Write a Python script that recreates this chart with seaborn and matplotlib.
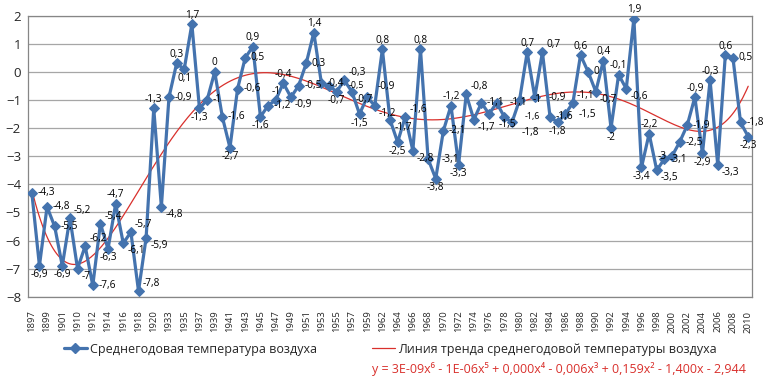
import numpy as np
import pandas as pd
import matplotlib
matplotlib.use("Agg")
import matplotlib.pyplot as plt
from matplotlib.lines import Line2D
import seaborn as sns

# categories (years present in the series)
years = ([1897, 1898, 1899, 1900, 1901, 1909]
         + list(range(1910, 1921)) + [1932]
         + list(range(1933, 1960)) + [1961]
         + list(range(1962, 2011)))

# mean annual air temperature
temps = [-4.3, -6.9, -4.8, -5.5, -6.9, -5.2, -7, -6.2, -7.6, -5.4, -6.3, -4.7,
         -6.1, -5.7, -7.8, -5.9, -1.3, -4.8,
         -0.9, 0.3, 0.1, 1.7, -1.3, -1, 0, -1.6, -2.7, -0.6, 0.5, 0.9,
         -1.6, -1.2, -1, -0.4, -0.9, -0.5, 0.3, 1.4, -0.4, -0.5, -0.7, -0.3,
         -0.7, -1.5, -0.9, -1.2,
         0.8, -1.7, -2.5, -1.6, -2.8, 0.8, -3.1, -3.8, -2.1, -1.2, -3.3, -0.8,
         -1.7, -1.1, -1.5, -1.1, -1.6, -1.8, -1, 0.7, -0.9, 0.7, -1.6, -1.8,
         -1.5, -1.1,
         0.6, 0, -0.7, 0.4, -2, -0.1, -0.6, 1.9,
         -3.4, -2.2, -3.5, -3.1, -3, -2.5, -1.9, -0.9, -2.9, -0.3, -3.3, 0.6,
         0.5, -1.8, -2.3]

series_label = "Среднегодовая температура воздуха"
trend_label = "Линия тренда среднегодовой температуры воздуха"
trend_equation = "y = 3E-09x⁶ - 1E-06x⁵ + 0,000x⁴ - 0,006x³ + 0,159x² - 1,400x - 2,944"

BLUE = "#4473AE"
RED = "#D9302C"
GRID = "#a6a6a6"
AXIS = "#868686"

sns.set_style("white")
plt.rcParams["font.family"] = ["Open Sans", "DejaVu Sans"]

df = pd.DataFrame({"idx": np.arange(len(temps)), "year": years, "temp": temps})

fig = plt.figure(figsize=(7.68, 3.89), dpi=100)
ax = fig.add_axes([28 / 768, 1 - 296.7 / 389, 724 / 768, 281 / 389])

# polynomial trend (6th order, like the spreadsheet trendline)
xs = df["idx"].values + 1
poly = np.polynomial.Polynomial.fit(xs, df["temp"].values, 6)
xfine = np.linspace(xs.min(), xs.max(), 400)
ax.plot(xfine - 1, poly(xfine), color=RED, lw=0.9, zorder=2)

sns.lineplot(data=df, x="idx", y="temp", ax=ax, color=BLUE, lw=2.3,
             marker="D", markersize=5.5, markeredgecolor=BLUE,
             legend=False, zorder=3)

n = len(temps)
ax.set_xlim(-0.5, n - 0.5)
ax.set_ylim(-8, 2)
ax.set_yticks(range(-8, 3))
ax.yaxis.grid(True, color=GRID, lw=0.9)
ax.xaxis.grid(False)
ax.set_axisbelow(True)

ax.set_xticks(df["idx"].values[::2])
ax.set_xticklabels(df["year"].values[::2], rotation=90)
ax.set_xticks(np.arange(-0.5, n, 1), minor=True)
ax.tick_params(axis="x", which="major", length=0, pad=10, labelsize=6.8)
ax.tick_params(axis="x", which="minor", direction="inout", length=6,
               width=0.8, color=AXIS)
ax.tick_params(axis="y", length=3, width=0.8, color=AXIS, labelsize=9.5, pad=2)
ax.set_xlabel("")
ax.set_ylabel("")
for s in ax.spines.values():
    s.set_visible(True)
    s.set_color(AXIS)
    s.set_linewidth(0.9)

# data labels: above peaks, below troughs, beside the rest; shift if crowded
SPOTS = {
    "above": ((0, 2.5), "center", "bottom"),
    "below": ((0, -2.5), "center", "top"),
    "right": ((4, 0), "left", "center"),
    "left": ((-4, 0), "right", "center"),
    "above right": ((3, 1.5), "left", "bottom"),
    "below right": ((3, -1.5), "left", "top"),
    "above left": ((-3, 1.5), "right", "bottom"),
    "below left": ((-3, -1.5), "right", "top"),
}
ORDER = {
    "above": ["above", "above right", "above left", "right", "left",
              "below right", "below left", "below"],
    "below": ["below", "below right", "below left", "right", "left",
              "above right", "above left", "above"],
    "right": ["right", "left", "above right", "below right", "above left",
              "below left", "above", "below"],
}
TRIES = [(1.0, 7.3), (2.4, 7.3), (1.0, 6.4), (2.4, 6.4), (3.6, 6.4)]

fig.canvas.draw()
renderer = fig.canvas.get_renderer()
ax_box = ax.get_window_extent(renderer)
placed = []
for i, v in enumerate(temps):
    nb = [temps[j] for j in (i - 1, i + 1) if 0 <= j < n]
    txt = f"{v:g}".replace(".", ",")
    if i > 0 and all(v > t for t in nb):
        pref = "above"
    elif i > 0 and all(v < t for t in nb):
        pref = "below"
    else:
        pref = "right"
    chosen = None
    for scale, fs in TRIES:
        for key in ORDER[pref]:
            (dx, dy), ha, va = SPOTS[key]
            ann = ax.annotate(txt, (i, v), xytext=(dx * scale, dy * scale),
                              textcoords="offset points", ha=ha, va=va,
                              fontsize=fs, color="black", zorder=4)
            bb = ann.get_window_extent(renderer).padded(1.5)
            clash = any(bb.overlaps(p) for p in placed)
            if not clash and bb.y0 >= ax_box.y0 and bb.x1 <= ax_box.x1 + 14:
                chosen = bb
                break
            ann.remove()
        if chosen is not None:
            break
    if chosen is None:
        (dx, dy), ha, va = SPOTS[pref]
        ann = ax.annotate(txt, (i, v), xytext=(dx, dy),
                          textcoords="offset points", ha=ha, va=va,
                          fontsize=6.4, color="black", zorder=4)
        chosen = ann.get_window_extent(renderer)
    placed.append(chosen)

h1 = Line2D([], [], color=BLUE, lw=2.3, marker="D", markersize=5.5)
h2 = Line2D([], [], color=RED, lw=0.9)
fig.legend([h1], [series_label], loc="center left",
           bbox_to_anchor=(64 / 768, 1 - 349 / 389), frameon=False,
           fontsize=9, handlelength=1.8, handletextpad=0.3,
           borderpad=0, borderaxespad=0)
fig.legend([h2], [trend_label], loc="center left",
           bbox_to_anchor=(372 / 768, 1 - 349 / 389), frameon=False,
           fontsize=9, handlelength=1.8, handletextpad=0.3,
           borderpad=0, borderaxespad=0)
fig.text(372 / 768, 1 - 369 / 389, trend_equation, color=RED, fontsize=9,
         va="center", ha="left")

fig.savefig("out.png", dpi=100)
